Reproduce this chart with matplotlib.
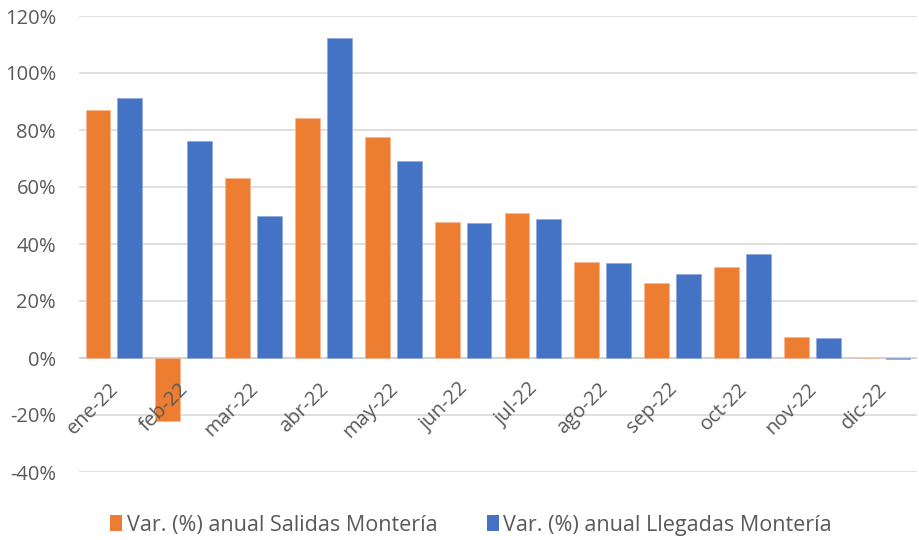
import matplotlib
matplotlib.use("Agg")
import matplotlib.pyplot as plt
import numpy as np
from matplotlib.transforms import offset_copy
from matplotlib.patches import Patch

categories = ["ene-22", "feb-22", "mar-22", "abr-22", "may-22", "jun-22",
              "jul-22", "ago-22", "sep-22", "oct-22", "nov-22", "dic-22"]
salidas = [86.9, -22.1, 63.0, 84.2, 77.5, 47.7, 51.0, 33.7, 26.4, 31.8, 7.4, 0.0]
llegadas = [91.1, 76.0, 49.7, 112.4, 69.1, 47.4, 48.8, 33.3, 29.5, 36.5, 7.0, -0.3]
yticks = [-40, -20, 0, 20, 40, 60, 80, 100, 120]
series_names = ["Var. (%) anual Salidas Montería", "Var. (%) anual Llegadas Montería"]

orange = "#ED7D31"
blue = "#4472C4"
text_color = "#595959"

plt.rcParams['font.family'] = ['Open Sans', 'DejaVu Sans']

fig = plt.figure(figsize=(9.2, 5.4), dpi=100)
ax = fig.add_axes([79/920, 1-472/540, (917-79)/920, (472-16)/540])

x = np.arange(len(categories))
w = 0.355
off = 0.228
ax.bar(x - off, salidas, w, color=orange, edgecolor="#f6b894", linewidth=0.5, zorder=3)
ax.bar(x + off, llegadas, w, color=blue, edgecolor="#8fa9dc", linewidth=0.5, zorder=3)

ax.set_xlim(-0.5, len(categories) - 0.5)
ax.set_ylim(-40, 120)
ax.set_yticks(yticks)
ax.set_yticklabels([f"{v}%" for v in yticks], fontsize=14.5, color=text_color)
ax.yaxis.grid(True, color="#d9d9d9", linewidth=1.2, zorder=0)
ax.set_axisbelow(True)
ax.tick_params(axis='y', length=0, pad=16.5)
ax.set_xticks([])
for s in ax.spines.values():
    s.set_visible(False)
ax.axhline(0, color="#d0d0d0", linewidth=1.2, zorder=2)

for i, lab in enumerate(categories):
    tr = offset_copy(ax.transData, fig=fig, x=-5, y=-21, units='dots')
    ax.text(i, 0, lab, transform=tr, rotation=45, ha='right', va='top',
            rotation_mode='anchor', fontsize=14.5, color=text_color)

handles = [Patch(facecolor=orange, label=series_names[0]),
           Patch(facecolor=blue, label=series_names[1])]
fig.legend(handles=handles, loc='center', bbox_to_anchor=(471/920, 1-525/540), ncol=2,
           frameon=False, fontsize=15.5, labelcolor=text_color, handlelength=0.55,
           handleheight=0.7, handletextpad=0.2, columnspacing=2.3)

fig.savefig("out.png", dpi=100, facecolor="white")
